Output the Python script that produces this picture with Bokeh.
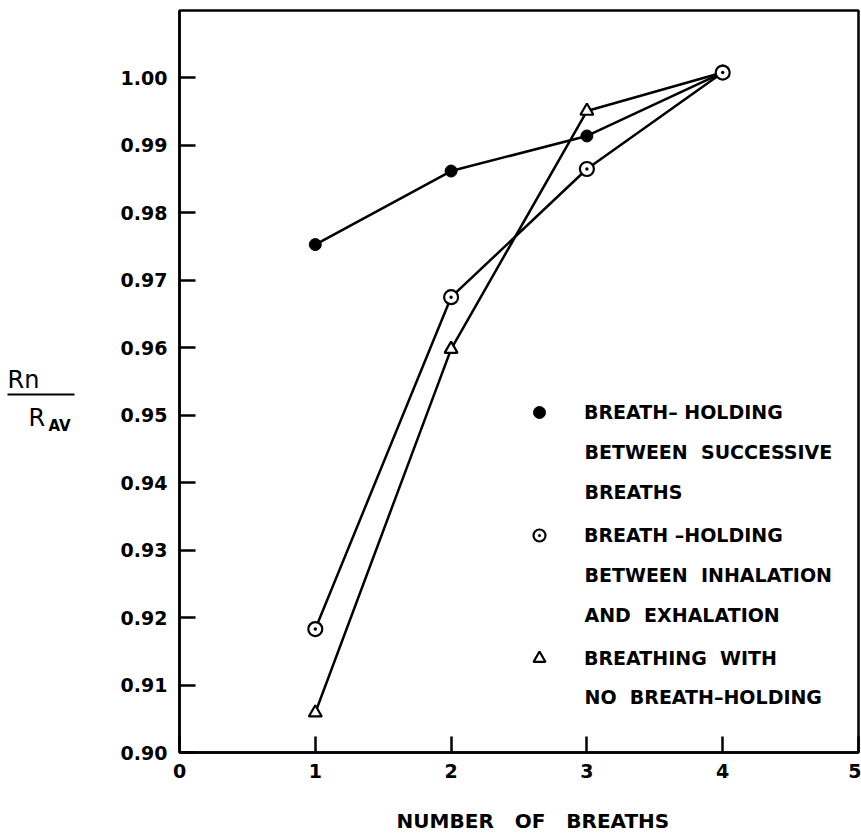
from bokeh.plotting import figure
from bokeh.models import (FixedTicker, Label, Legend, LegendItem, Range1d)
from bokeh.layouts import row
from bokeh.core.properties import value
from bokeh.embed import file_html
from bokeh.resources import INLINE

NB = "\u00a0"  # non-breaking space keeps the wide word gaps of the original

# ---- data ----
breaths = [1, 2, 3, 4]
hold_successive = [0.9753, 0.9862, 0.9914, 1.0008]
hold_inh_exh = [0.9183, 0.9675, 0.9865, 1.0008]
no_holding = [0.9059, 0.9598, 0.9951, 1.0008]

x_ticks = [0, 1, 2, 3, 4, 5]
y_ticks = [0.90, 0.91, 0.92, 0.93, 0.94, 0.95, 0.96, 0.97, 0.98, 0.99, 1.00]
y_tick_labels = ["0.90", "0.91", "0.92", "0.93", "0.94", "0.95", "0.96",
                 "0.97", "0.98", "0.99", "1.00"]

legend_first = ["BREATH–" + NB + "HOLDING", "BREATH" + NB + "–HOLDING",
                "BREATHING" + NB * 2 + "WITH"]
legend_more = [["BETWEEN" + NB * 2 + "SUCCESSIVE", "BREATHS"],
               ["BETWEEN" + NB * 2 + "INHALATION", "AND" + NB * 2 + "EXHALATION"],
               ["NO" + NB * 2 + "BREATH–HOLDING"]]
x_title = NB * 4 + "NUMBER" + NB * 3 + "OF" + NB * 3 + "BREATHS"

FONT = "DejaVu Sans"
W_LEFT = 100
H = 838
TOP, BOTTOM = 10, 86

# ---------------- main figure ----------------
p = figure(width=861 - W_LEFT, height=H, x_range=(0, 5), y_range=(0.90, 1.01),
           output_backend="svg", toolbar_location=None,
           min_border_left=179 - W_LEFT, min_border_right=3, min_border_top=TOP,
           min_border_bottom=BOTTOM)
p.grid.visible = False
p.outline_line_color = "black"
p.outline_line_width = 2.5
p.background_fill_color = "white"
p.border_fill_color = "white"

for ax in (p.xaxis[0], p.yaxis[0]):
    ax.axis_line_width = 2.5
    ax.axis_line_color = "black"
    ax.major_tick_line_width = 2.5
    ax.major_tick_in = 16
    ax.major_tick_out = 0
    ax.minor_tick_line_color = None
    ax.major_label_text_font = FONT
    ax.major_label_text_font_style = "bold"
    ax.major_label_text_font_size = "19px"
    ax.major_label_text_color = "black"

p.xaxis.ticker = FixedTicker(ticks=x_ticks)
p.xaxis.major_label_standoff = 11
p.xaxis.axis_label = x_title
p.xaxis.axis_label_text_font = FONT
p.xaxis.axis_label_text_font_style = "bold"
p.xaxis.axis_label_text_font_size = "20px"
p.xaxis.axis_label_text_color = "black"
p.xaxis.axis_label_standoff = 28
p.yaxis.ticker = FixedTicker(ticks=y_ticks)
p.yaxis.major_label_overrides = {t: s for t, s in zip(y_ticks, y_tick_labels)}
p.yaxis.major_label_standoff = 12

for ys in (hold_successive, hold_inh_exh, no_holding):
    p.line(breaths, ys, line_color="black", line_width=2.5)

r1 = p.scatter(breaths, hold_successive, marker="circle", size=12,
               fill_color="black", line_color="black")
r3 = p.scatter(breaths, no_holding, marker="triangle", size=13,
               fill_color="white", line_color="black", line_width=2.2)
r2 = p.scatter(breaths, hold_inh_exh, marker="circle_dot", size=14,
               fill_color="white", line_color="black", line_width=2.2)

legend = Legend(items=[LegendItem(label=legend_first[0], renderers=[r1]),
                       LegendItem(label=legend_first[1], renderers=[r2]),
                       LegendItem(label=legend_first[2], renderers=[r3])],
                location=(345, 79), border_line_color=None,
                background_fill_alpha=0, padding=0, margin=0,
                glyph_width=30, glyph_height=30, label_standoff=30,
                spacing=93, label_text_color="black",
                label_text_font=FONT, label_text_font_style="bold",
                label_text_font_size="19px")
p.add_layout(legend, "center")

# pixel -> data helpers for annotation placement
X0, XS = 179.0, 135.8
def dx(px):
    return (px - X0) / XS
def dy(py):
    return 0.90 + (752.0 - py) / 6745.0

first_centers = [412, 535, 657]
for c, lines in zip(first_centers, legend_more):
    for k, t in enumerate(lines):
        p.add_layout(Label(x=dx(584), y=dy(c + 40 * (k + 1)), text=t,
                           text_font=FONT, text_font_style="bold",
                           text_font_size="19px", text_color="black",
                           text_baseline="middle", text_align="left"))

# ---------------- left strip with the y label ----------------
q = figure(width=W_LEFT, height=H, x_range=Range1d(0, W_LEFT),
           y_range=Range1d(0.90, 1.01), output_backend="svg",
           toolbar_location=None, min_border_left=0, min_border_right=0,
           min_border_top=TOP, min_border_bottom=BOTTOM,
           x_axis_location=None, y_axis_location=None)
q.grid.visible = False
q.outline_line_color = None
q.background_fill_color = "white"
q.border_fill_color = "white"

q.text(x=[7], y=[dy(380)], text=["Rn"], text_font=value(FONT),
       text_font_size="24px", text_baseline="alphabetic", text_color="black")
q.segment(x0=[7], y0=[dy(394)], x1=[74], y1=[dy(394)], line_width=2,
          line_color="black")
q.text(x=[28], y=[dy(418)], text=["R"], text_font=value(FONT),
       text_font_size="24px", text_baseline="alphabetic", text_color="black")
q.text(x=[48], y=[dy(426)], text=["AV"], text_font=value(FONT),
       text_font_style="bold", text_font_size="15px",
       text_baseline="alphabetic", text_color="black")

layout = row(q, p, spacing=0)
open("out.html", "w").write(file_html(layout, INLINE))
